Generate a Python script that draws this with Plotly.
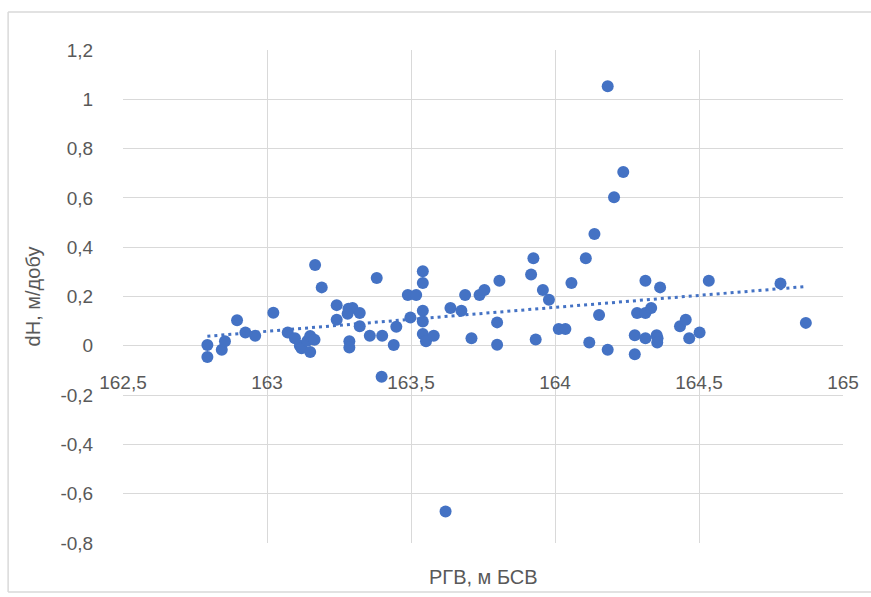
import numpy as np
import plotly.graph_objects as go

# ---- data ----
rgv = [162.793, 162.793, 162.843, 162.854, 162.896, 162.925, 162.959, 163.022,
       163.072, 163.097, 163.114, 163.120, 163.140, 163.150, 163.150, 163.165,
       163.167, 163.190, 163.242, 163.242, 163.283, 163.297, 163.280, 163.322,
       163.322, 163.286, 163.286, 163.357, 163.381, 163.398, 163.400, 163.440,
       163.449, 163.489, 163.518, 163.498, 163.541, 163.541, 163.541, 163.541,
       163.541, 163.552, 163.579, 163.620, 163.637, 163.675, 163.688, 163.710,
       163.738, 163.755, 163.807, 163.799, 163.799, 163.917, 163.925, 163.933,
       163.958, 163.979, 164.013, 164.036, 164.057, 164.107, 164.119, 164.137,
       164.153, 164.183, 164.183, 164.205, 164.237, 164.277, 164.277, 164.285,
       164.314, 164.314, 164.314, 164.334, 164.353, 164.356, 164.355, 164.365,
       164.434, 164.454, 164.466, 164.502, 164.534, 164.783, 164.871]
dh = [0.003, -0.045, -0.016, 0.018, 0.104, 0.054, 0.041, 0.134,
      0.054, 0.031, 0.000, -0.010, 0.020, 0.040, -0.025, 0.025,
      0.328, 0.237, 0.165, 0.106, 0.150, 0.153, 0.130, 0.133,
      0.079, 0.018, -0.007, 0.041, 0.275, -0.126, 0.041, 0.003,
      0.077, 0.206, 0.206, 0.115, 0.302, 0.255, 0.142, 0.099,
      0.048, 0.018, 0.041, -0.672, 0.153, 0.142, 0.206, 0.031,
      0.206, 0.226, 0.264, 0.095, 0.004, 0.289, 0.355, 0.026,
      0.226, 0.187, 0.068, 0.068, 0.255, 0.355, 0.013, 0.454,
      0.125, -0.016, 1.053, 0.603, 0.705, 0.043, -0.034, 0.133,
      0.264, 0.133, 0.031, 0.153, 0.043, 0.031, 0.013, 0.237,
      0.079, 0.106, 0.031, 0.054, 0.264, 0.253, 0.093]

x_ticks = [162.5, 163.0, 163.5, 164.0, 164.5, 165.0]
x_tick_labels = ["162,5", "163", "163,5", "164", "164,5", "165"]
y_ticks = [1.2, 1.0, 0.8, 0.6, 0.4, 0.2, 0.0, -0.2, -0.4, -0.6, -0.8]
y_tick_labels = ["1,2", "1", "0,8", "0,6", "0,4", "0,2", "0", "-0,2", "-0,4", "-0,6", "-0,8"]

x_title = "РГВ, м БСВ"
y_title = "dH, м/добу"

# ---- style ----
BLUE = "#4472C4"
GRID = "#D9D9D9"
TXT = "#595959"
FONT = "Liberation Sans Narrow, Liberation Sans, Arial, sans-serif"

W, H = 871, 597
L, R, T, B = 123, 21, 50, 54
X_RANGE = [162.5, 165.0]
Y_RANGE = [-0.8, 1.2]

# linear trendline (least squares, like Excel's linear trendline)
slope, intercept = np.polyfit(rgv, dh, 1)
tx = np.array([min(rgv), max(rgv)])
ty = slope * tx + intercept

fig = go.Figure()
fig.add_trace(go.Scatter(
    x=rgv, y=dh, mode="markers",
    marker=dict(size=12, color=BLUE, line=dict(width=0)),
    showlegend=False, hoverinfo="x+y"))
fig.add_trace(go.Scatter(
    x=tx, y=ty, mode="lines",
    line=dict(color=BLUE, width=3, dash="3px,4px"),
    showlegend=False, hoverinfo="skip"))

pw = W - L - R
ph = H - T - B


def px_to_paper_x(px):
    return (px - L) / pw


def px_to_paper_y(py):
    return (H - B - py) / ph


zero_pos = (0 - Y_RANGE[0]) / (Y_RANGE[1] - Y_RANGE[0])

# chart-area frame (open on the right, as in the cropped reference)
bx0, bx1 = px_to_paper_x(7), px_to_paper_x(900)
by0, by1 = px_to_paper_y(592), px_to_paper_y(12)
frame_line = dict(color=GRID, width=1.5)
frame = [
    dict(type="line", xref="paper", yref="paper", x0=bx0, x1=bx1, y0=by1, y1=by1, line=frame_line, layer="below"),
    dict(type="line", xref="paper", yref="paper", x0=bx0, x1=bx1, y0=by0, y1=by0, line=frame_line, layer="below"),
    dict(type="line", xref="paper", yref="paper", x0=bx0, x1=bx0, y0=by0, y1=by1, line=frame_line, layer="below"),
]

fig.update_layout(
    width=W, height=H,
    margin=dict(l=L, r=R, t=T, b=B, pad=0),
    paper_bgcolor="white", plot_bgcolor="white",
    font=dict(family=FONT, size=19, color=TXT),
    xaxis=dict(
        range=X_RANGE, tickvals=x_ticks, ticktext=x_tick_labels,
        showgrid=True, gridcolor=GRID, gridwidth=1,
        zeroline=False, showline=False,
        anchor="free", position=zero_pos,
        ticks="outside", ticklen=19, tickcolor="rgba(0,0,0,0)",
        tickfont=dict(family=FONT, size=19, color=TXT),
        fixedrange=True,
    ),
    yaxis=dict(
        range=Y_RANGE, tickvals=y_ticks, ticktext=y_tick_labels,
        showgrid=True, gridcolor=GRID, gridwidth=1,
        zeroline=False, showline=False,
        ticks="outside", ticklen=25, tickcolor="rgba(0,0,0,0)",
        tickfont=dict(family=FONT, size=19, color=TXT),
        title=dict(text=y_title, font=dict(family=FONT, size=20, color=TXT), standoff=14),
        fixedrange=True,
    ),
    annotations=[dict(
        text=x_title, xref="paper", yref="paper",
        x=0.5, y=px_to_paper_y(577), xanchor="center", yanchor="middle",
        showarrow=False, font=dict(family=FONT, size=20, color=TXT))],
    shapes=frame,
)

fig.write_html("out.html")
